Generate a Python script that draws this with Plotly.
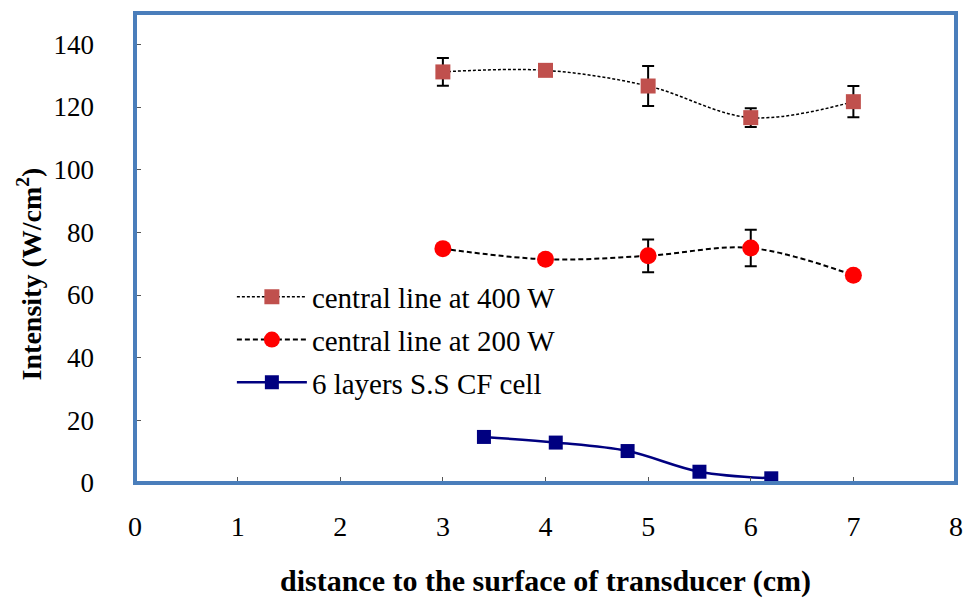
import plotly.graph_objects as go

x_400 = [3, 4, 5, 6, 7]
y_400 = [131.2, 131.7, 126.7, 116.6, 121.7]
err_400 = [4.4, 0, 6.4, 3.0, 5.0]

x_200 = [3, 4, 5, 6, 7]
y_200 = [74.8, 71.4, 72.5, 75.0, 66.3]
err_200 = [0, 0, 5.2, 5.8, 0]

x_cell = [3.4, 4.1, 4.8, 5.5, 6.2]
y_cell = [14.7, 12.9, 10.2, 3.6, 1.5]

names = ["central line at 400 W", "central line at 200 W", "6 layers S.S CF cell"]
x_ticks = [0, 1, 2, 3, 4, 5, 6, 7, 8]
y_ticks = [0, 20, 40, 60, 80, 100, 120, 140]
y_title = "<b>Intensity (W/cm<sup>2</sup>)</b>"
x_title = "<b>distance to the surface of transducer (cm)</b>"

FONT = "'Liberation Serif', 'Times New Roman', serif"

fig = go.Figure()
fig.add_trace(go.Scatter(
    x=x_400, y=y_400, name=names[0], mode="lines+markers", legendgroup="a",
    line=dict(color="black", width=1.5, dash="3px,2px", shape="spline", smoothing=1),
    marker=dict(symbol="square", size=15, color="#C0504D"),
    error_y=dict(type="data", array=err_400, color="black", thickness=2, width=6),
))
fig.add_trace(go.Scatter(
    x=x_200, y=y_200, name=names[1], mode="lines+markers", legendgroup="b",
    line=dict(color="black", width=2, dash="5px,3px", shape="spline", smoothing=1),
    marker=dict(symbol="circle", size=17, color="#FF0000"),
    error_y=dict(type="data", array=err_200, color="black", thickness=2, width=6),
))
fig.add_trace(go.Scatter(
    x=x_cell, y=y_cell, name=names[2], mode="lines+markers", legendgroup="c",
    line=dict(color="#000080", width=2.5, shape="spline", smoothing=1),
    marker=dict(symbol="square", size=14, color="#000080"),
))

fig.add_shape(type="rect", xref="paper", yref="paper", x0=0, x1=1, y0=0, y1=1,
              line=dict(color="#4A7EBB", width=4), layer="above")

fig.add_annotation(text=y_title, xref="paper", yref="paper", x=-0.129, y=0.444,
                   xanchor="center", yanchor="middle", textangle=-90, showarrow=False,
                   font=dict(size=28, family=FONT, color="black"))

fig.update_layout(
    width=973, height=601,
    margin=dict(l=135, r=10, t=13, b=117),
    paper_bgcolor="white", plot_bgcolor="white",
    font=dict(family=FONT, size=26, color="black"),
    showlegend=True,
    legend=dict(x=0.118, y=0.45, xanchor="left", yanchor="top",
                bgcolor="rgba(0,0,0,0)", font=dict(size=29, family=FONT, color="black"),
                traceorder="grouped", tracegroupgap=2, itemwidth=70),
    xaxis=dict(range=[0, 8], tickvals=x_ticks, ticks="inside", ticklen=6,
               tickcolor="#555", showgrid=False, zeroline=False, showline=False,
               tickfont=dict(size=28, family=FONT, color="black"), ticklabelstandoff=24,
               title=dict(text=x_title,
                          font=dict(size=30, family=FONT, color="black"), standoff=28)),
    yaxis=dict(range=[0, 150], tickvals=y_ticks, ticks="inside", ticklen=6,
               tickcolor="#555", showgrid=False, zeroline=False, showline=False,
               tickfont=dict(size=27, family=FONT, color="black"), ticklabelstandoff=40),
)

fig.write_html("out.html")
